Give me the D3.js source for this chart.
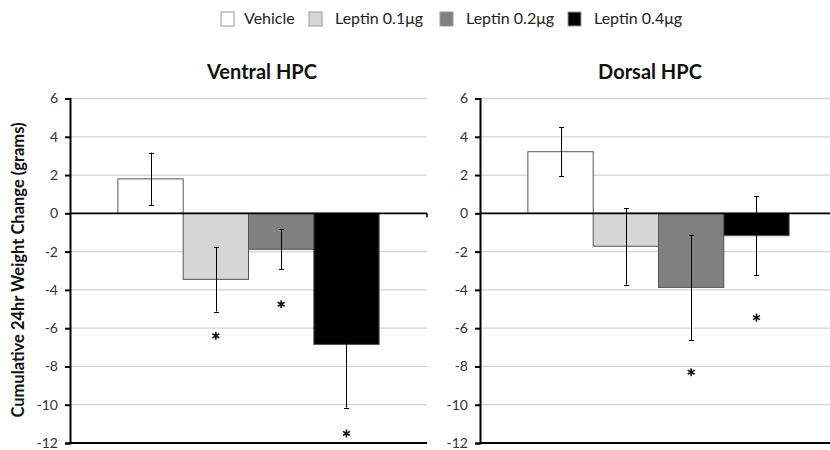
<!DOCTYPE html>
<html>
<head>
<meta charset="utf-8">
<script src="https://cdn.jsdelivr.net/npm/d3@7"></script>
<style>
  body { margin: 0; background: #fff; }
  text { font-family: Lato, "Open Sans", sans-serif; }
</style>
</head>
<body>
<svg width="830" height="450"></svg>
<script>
// data
var series = ["Vehicle", "Leptin 0.1\u03bcg", "Leptin 0.2\u03bcg", "Leptin 0.4\u03bcg"];
var panels = ["Ventral HPC", "Dorsal HPC"];
var ventralMeans = [1.8, -3.45, -1.88, -6.85];
var ventralErr = [1.37, 1.68, 1.05, 3.3];
var ventralStars = [null, -6.4, -4.75, -11.5];
var dorsalMeans = [3.22, -1.72, -3.87, -1.17];
var dorsalErr = [1.28, 2.0, 2.75, 2.05];
var dorsalStars = [null, null, -8.3, -5.45];
var yTicks = d3.range(-12, 7, 2);

var colors = ["#ffffff", "#d6d6d6", "#808080", "#000000"];

var svg = d3.select("svg");

var y = d3.scaleLinear()
    .domain([-12, 6])
    .range([443, 98.5]);

var plotW = 357;
var x = d3.scaleBand()
    .domain(series)
    .range([0, plotW])
    .paddingInner(0)
    .paddingOuter(0.733);

var color = d3.scaleOrdinal().domain(series).range(colors);

var star = d3.symbol().type(d3.symbolAsterisk).size(45);

// legend
var legendX = [221, 309, 440, 568];
var legend = svg.append("g").attr("class", "legend");
series.forEach(function (s, i) {
    var lg = legend.append("g").attr("transform", "translate(" + legendX[i] + ",12)");
    lg.append("rect")
        .attr("width", 13).attr("height", 14)
        .attr("fill", color(s))
        .attr("stroke", "#9a9a9a").attr("stroke-width", 1);
    lg.append("text")
        .attr("x", i == 0 ? 23 : 26)
        .attr("y", 12)
        .attr("font-size", 16)
        .attr("fill", "#222")
        .text(s);
});

// y label
svg.append("text")
    .attr("transform", "translate(24,270) rotate(-90)")
    .attr("text-anchor", "middle")
    .attr("font-size", 16.5)
    .attr("font-weight", "bold")
    .attr("fill", "#111")
    .text("Cumulative 24hr Weight Change (grams)");

var panelData = [
    { title: panels[0], left: 70, titleX: 262, means: ventralMeans, err: ventralErr, stars: ventralStars },
    { title: panels[1], left: 480, titleX: 650, means: dorsalMeans, err: dorsalErr, stars: dorsalStars }
];

panelData.forEach(function (p) {
    var g = svg.append("g").attr("transform", "translate(" + p.left + ",0)");

    svg.append("text")
        .attr("x", p.titleX)
        .attr("y", 79)
        .attr("text-anchor", "middle")
        .attr("font-size", 20)
        .attr("font-weight", "bold")
        .attr("fill", "#111")
        .text(p.title);

    // gridlines
    g.selectAll("line.grid")
        .data(yTicks.filter(function (d) { return d != 0 && d != -12; }))
        .enter().append("line")
        .attr("class", "grid")
        .attr("x1", 0).attr("x2", plotW)
        .attr("y1", function (d) { return y(d); })
        .attr("y2", function (d) { return y(d); })
        .attr("stroke", "#d4d4d4")
        .attr("stroke-width", 1.3);

    var rows = series.map(function (s, i) {
        return { s: s, v: p.means[i], e: p.err[i], star: p.stars[i] };
    });

    g.selectAll("rect.bar")
        .data(rows)
        .enter().append("rect")
        .attr("class", "bar")
        .attr("x", function (d) { return x(d.s); })
        .attr("width", x.bandwidth())
        .attr("y", function (d) { return y(Math.max(0, d.v)); })
        .attr("height", function (d) { return Math.abs(y(d.v) - y(0)); })
        .attr("fill", function (d) { return color(d.s); })
        .attr("stroke", "#555")
        .attr("stroke-width", 1);

    // error bars
    var eb = g.selectAll("g.err")
        .data(rows)
        .enter().append("g")
        .attr("class", "err")
        .attr("transform", function (d) { return "translate(" + (Math.round(x(d.s) + x.bandwidth() / 2) + 0.5) + ",0)"; });
    eb.append("line")
        .attr("y1", function (d) { return y(d.v + d.e); })
        .attr("y2", function (d) { return y(d.v - d.e); })
        .attr("stroke", "#000").attr("stroke-width", 1);
    eb.selectAll("line.cap")
        .data(function (d) { return [d.v + d.e, d.v - d.e]; })
        .enter().append("line")
        .attr("class", "cap")
        .attr("x1", -2.5).attr("x2", 2.5)
        .attr("y1", function (d) { return Math.round(y(d)) + 0.5; })
        .attr("y2", function (d) { return Math.round(y(d)) + 0.5; })
        .attr("stroke", "#000").attr("stroke-width", 1);

    // significance stars
    g.selectAll("path.star")
        .data(rows.filter(function (d) { return d.star != null; }))
        .enter().append("path")
        .attr("class", "star")
        .attr("transform", function (d) {
            return "translate(" + (x(d.s) + x.bandwidth() / 2) + "," + y(d.star) + ")";
        })
        .attr("d", star)
        .attr("fill", "none")
        .attr("stroke", "#111")
        .attr("stroke-width", 1.6);

    // zero line and bottom line
    g.append("line")
        .attr("x1", 0).attr("x2", plotW)
        .attr("y1", y(0)).attr("y2", y(0))
        .attr("stroke", "#000").attr("stroke-width", 1.6);
    g.append("line")
        .attr("x1", 0).attr("x2", plotW)
        .attr("y1", y(-12)).attr("y2", y(-12))
        .attr("stroke", "#000").attr("stroke-width", 2);
    g.append("line")
        .attr("x1", plotW).attr("x2", plotW)
        .attr("y1", y(0)).attr("y2", y(0) + 4)
        .attr("stroke", "#000").attr("stroke-width", 1.6);

    // y axis
    var ax = g.append("g")
        .call(d3.axisLeft(y).tickValues(yTicks).tickSize(5).tickPadding(7).tickFormat(d3.format("d")));
    ax.select(".domain").attr("stroke", "#000").attr("stroke-width", 2);
    ax.selectAll(".tick line").attr("stroke", "#000").attr("stroke-width", 2);
    ax.selectAll(".tick text")
        .attr("font-family", "Lato, 'Open Sans', sans-serif")
        .attr("font-size", 14)
        .attr("fill", "#333")
        .text(function (d) { return d < 0 ? "-" + (-d) : d; });
});
</script>
</body>
</html>
